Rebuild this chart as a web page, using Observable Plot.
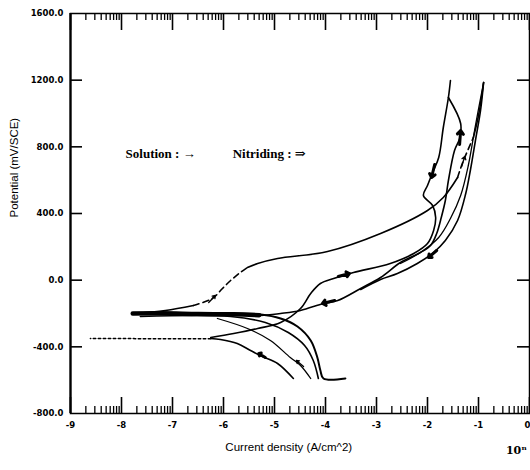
<!DOCTYPE html>
<html><head><meta charset="utf-8">
<script src="https://cdn.jsdelivr.net/npm/d3@7"></script>
<script src="https://cdn.jsdelivr.net/npm/@observablehq/plot@0.6"></script>
<style>body{margin:0;background:#fff;} svg{overflow:visible}</style>
</head><body><div id="chart"></div>
<script>
// ---- axis values ----
const xDecades = [-9, -8, -7, -6, -5, -4, -3, -2, -1, 0];
const xLabelsMain = [-9, -8, -7, -6, -5, -4, -3, -2, -1];
const xLabelsEdge = [0];
const yTicks = [-800, -400, 0, 400, 800, 1200, 1600];
const yInner = [-400, 0, 400, 800, 1200];

// ---- curves (log10 current density, potential mV/SCE) ----
const tipX = [-6.25, -8.61];
const tipY = [-352, -350];

const s1X = [-4.63, -4.94, -5.24, -5.47, -5.73, -6.06, -6.25];
const s1Y = [-590, -500, -458, -422, -380, -356, -350];

const s2X = [-6.25, -5.80, -5.33, -4.88, -4.49, -4.29, -4.10, -3.84, -3.45, -2.73, -2.27, -2.00, -1.88, -1.84, -1.90, -2.08, -2.00, -1.90, -1.78, -1.69, -1.59, -1.55];
const s2Y = [-344, -320, -290, -254, -170, -80, -20, 10, 46, 100, 160, 220, 298, 376, 448, 508, 568, 646, 736, 916, 1096, 1198];

const s3X = [-1.59, -1.35, -1.37, -1.47, -1.59, -1.65, -1.73, -1.82, -1.94, -2.14, -2.53, -2.92, -3.31, -3.76, -4.04, -4.49, -4.88, -5.27];
const s3Y = [1096, 940, 850, 778, 598, 478, 376, 280, 208, 166, 106, 16, -50, -122, -140, -182, -200, -212];

const s4X = [-0.90, -0.96, -1.06, -1.16, -1.25, -1.41, -1.65, -1.88, -2.20, -2.59, -2.92, -3.31];
const s4Y = [1186, 1018, 838, 658, 520, 358, 238, 166, 100, 40, 4, -56];

const s5X = [-0.90, -1.06, -1.20, -1.35, -1.55, -1.78, -2.14, -2.53];
const s5Y = [1186, 928, 688, 508, 370, 256, 166, 100];

const c1aX = [-7.78, -7.14, -6.59];
const c1aY = [-200, -182, -152];
const c1bX = [-6.59, -6.22, -6.02, -5.86, -5.67, -5.53];
const c1bY = [-152, -110, -50, -2, 46, 76];
const c1cX = [-5.53, -5.33, -4.94, -3.96, -2.92, -2.00, -1.69, -1.41];
const c1cY = [76, 100, 130, 172, 280, 418, 496, 616];
const c1dX = [-1.41, -1.31, -1.10];
const c1dY = [616, 706, 856];
const c1eX = [-1.10, -1.00, -0.90];
const c1eY = [856, 988, 1186];

const bandX = [-7.78, -7.2, -6.5, -5.8, -5.3];
const bandY = [-200, -199, -203, -205, -210];

const s6X = [-7.78, -6.45, -5.27, -4.88, -4.55, -4.29, -4.16, -4.10, -4.04, -3.61];
const s6Y = [-200, -200, -206, -230, -278, -362, -464, -542, -590, -590];

const s7X = [-7.63, -5.86, -5.18, -4.73, -4.41, -4.24, -4.14];
const s7Y = [-218, -218, -254, -314, -392, -482, -590];

const s8X = [-6.12, -5.53, -5.08, -4.69, -4.49, -4.29];
const s8Y = [-230, -290, -362, -464, -512, -590];

// ---- direction arrows ----
const boldX1 = [-5.18, -3.75, -3.82, -1.82, -1.86, -1.37];
const boldY1 = [-464, 22, -122, 178, 694, 814];
const boldX2 = [-5.31, -3.53, -4.06, -1.98, -1.92, -1.35];
const boldY2 = [-440, 40, -140, 136, 616, 898];

const thinX1 = [-6.29, -1.33, -4.43];
const thinY1 = [-134, 682, -518];
const thinX2 = [-6.16, -1.27, -4.57];
const thinY2 = [-92, 742, -482];

// ---- texts ----
const legendTexts = ["Solution : \u2192", "Nitriding : \u21D2"];
const legendX = [-7.92, -5.82];
const legendY = [760, 760];
const yTitle = "Potential (mV/SCE)";
const xTitle = "Current density (A/cm^2)";
const expText = "10\u207F";

// ---- build helpers ----
const pts = (xs, ys) => xs.map((x, i) => ({x, y: ys[i]}));
const arrows = (x1, y1, x2, y2) => x1.map((v, i) => ({x1: v, y1: y1[i], x2: x2[i], y2: y2[i]}));
const minorX = [];
for (let d = -9; d < 0; d++) for (let k = 2; k <= 9; k++) minorX.push(d + Math.log10(k));

const FW = 459, FH = 400;
const lineOpts = {x: "x", y: "y", stroke: "black", strokeWidth: 1.6, curve: "catmull-rom"};
const L = (xs, ys, extra = {}) => Plot.line(pts(xs, ys), {...lineOpts, ...extra});

const chart = Plot.plot({
  width: 530, height: 470,
  marginLeft: 70, marginRight: 1, marginTop: 13, marginBottom: 57,
  x: {domain: [-9, 0]},
  y: {domain: [-800, 1600]},
  style: {fontFamily: "DejaVu Sans", fontSize: "8.5px", fontWeight: "bold", background: "white", color: "black"},
  marks: [
    Plot.frame({stroke: "black", strokeWidth: 1.5}),
    Plot.ruleX([-9], {stroke: "black", strokeWidth: 2.2}),
    // ticks
    Plot.tickX(minorX, {x: d => d, insetTop: FH - 7, stroke: "black", strokeWidth: 1.3}),
    Plot.tickX(xDecades, {x: d => d, insetTop: FH - 16, stroke: "black", strokeWidth: 1.6}),
    Plot.tickX(minorX, {x: d => d, insetBottom: FH - 7, stroke: "black", strokeWidth: 1.3}),
    Plot.tickX(xDecades, {x: d => d, insetBottom: FH - 17, stroke: "black", strokeWidth: 1.6}),
    Plot.tickY(yInner, {y: d => d, insetRight: FW - 12, stroke: "black", strokeWidth: 1.6}),
    Plot.tickY(yInner, {y: d => d, insetLeft: FW - 12, stroke: "black", strokeWidth: 1.6}),
    // axis labels
    Plot.axisX(xLabelsMain, {tickSize: 0, tickPadding: 8, tickFormat: d => String(d), label: null, fontWeight: "bold"}),
    Plot.axisX(xLabelsEdge, {tickSize: 0, tickPadding: 8, tickFormat: d => String(d), label: null, fontWeight: "bold", textAnchor: "end", dx: 1}),
    Plot.axisY(yTicks, {tickSize: 0, tickPadding: 7, tickFormat: d => d.toFixed(1), label: null, fontWeight: "bold"}),
    // curves
    L(tipX, tipY, {strokeDasharray: "2.5,2.5", strokeWidth: 1.5, curve: "linear"}),
    L(s1X, s1Y),
    L(s2X, s2Y),
    L(s3X, s3Y),
    L(s4X, s4Y),
    L(s5X, s5Y, {strokeWidth: 1.3}),
    L(c1aX, c1aY),
    L(c1bX, c1bY, {strokeDasharray: "6,4"}),
    L(c1cX, c1cY),
    L(c1dX, c1dY, {strokeDasharray: "6,4"}),
    L(c1eX, c1eY),
    L(bandX, bandY, {strokeWidth: 4.5}),
    L(s6X, s6Y, {strokeWidth: 2}),
    L(s7X, s7Y, {strokeWidth: 1.6}),
    L(s8X, s8Y, {strokeWidth: 1.3}),
    // arrows
    Plot.arrow(arrows(boldX1, boldY1, boldX2, boldY2), {x1: "x1", y1: "y1", x2: "x2", y2: "y2", stroke: "black", strokeWidth: 3, headLength: 6, headAngle: 80}),
    Plot.arrow(arrows(thinX1, thinY1, thinX2, thinY2), {x1: "x1", y1: "y1", x2: "x2", y2: "y2", stroke: "black", strokeWidth: 1.3, headLength: 5, headAngle: 70}),
    // legend text
    Plot.text(legendTexts, {x: (d, i) => legendX[i], y: (d, i) => legendY[i], text: d => d, textAnchor: "start", fontFamily: "Liberation Serif, DejaVu Serif", fontSize: 13, fontWeight: "bold", fill: "black"}),
    // titles
    Plot.text([yTitle], {frameAnchor: "left", dx: -56, dy: 4, rotate: -90, text: d => d, fontFamily: "Liberation Sans, Arial", fontSize: 11.5, fontWeight: "normal", fill: "black"}),
    Plot.text([xTitle], {x: () => -4.72, frameAnchor: "bottom", dy: 37, text: d => d, fontFamily: "Liberation Sans, Arial", fontSize: 11.5, fontWeight: "normal", fill: "black"}),
    Plot.text([expText], {x: () => -0.05, frameAnchor: "bottom", dy: 40, textAnchor: "end", text: d => d, fontFamily: "DejaVu Serif, Liberation Serif", fontSize: 11, fontWeight: "bold", fill: "black"})
  ]
});
document.getElementById("chart").appendChild(chart);
</script>
</body></html>
